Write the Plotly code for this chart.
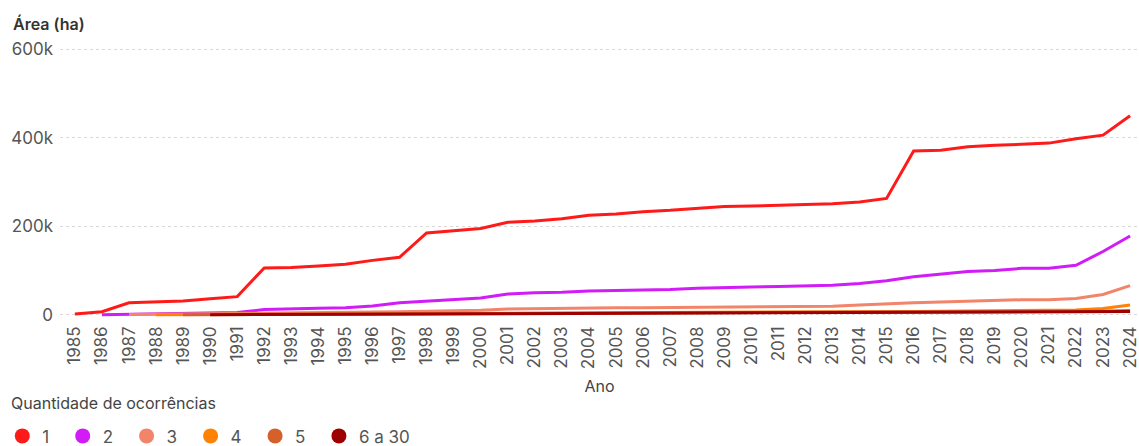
import plotly.graph_objects as go

anos = [str(a) for a in range(1985, 2025)]

# Área acumulada (ha) por quantidade de ocorrências
area_1 = [2000, 7000, 27000, 29000, 31000, 36000, 41000, 106000, 107000, 110000,
          114000, 123000, 130000, 185000, 190000, 195000, 209000, 212000, 217000, 225000,
          228000, 233000, 236000, 241000, 245000, 246000, 247000, 249000, 251000, 255000,
          263000, 370000, 372000, 380000, 383000, 386000, 388000, 398000, 406000, 450000]
area_2 = [None, 200, 1000, 1500, 2500, 3500, 5000, 12000, 14000, 15000,
          16000, 20000, 27000, 31000, 34000, 38000, 47000, 50000, 51000, 54000,
          55000, 56000, 57000, 60000, 62000, 63000, 64000, 66000, 67000, 71000,
          77000, 86000, 92000, 98000, 100000, 105000, 105000, 112000, 143000, 178000]
area_3 = [None, None, 500, 1000, 1500, 2000, 2500, 3500, 4000, 4500,
          5000, 6000, 7000, 8000, 9000, 10000, 13000, 14000, 14500, 15500,
          16000, 16000, 16500, 17000, 17500, 18000, 18500, 19000, 19500, 22000,
          25000, 27000, 29000, 31000, 32000, 34000, 34000, 37000, 46000, 66000]
area_4 = [None, None, None, 200, 400, 600, 800, 1000, 1200, 1400,
          1600, 1800, 2000, 2200, 2400, 2600, 3000, 3200, 3400, 3700,
          3900, 4100, 4300, 4600, 4800, 5000, 5200, 5500, 5800, 6200,
          6800, 7500, 8000, 8600, 9000, 9500, 10000, 11000, 14000, 22000]
area_5 = [None, None, None, None, 200, 400, 600, 800, 1000, 1100,
          1200, 1400, 1600, 1800, 2000, 2200, 2500, 2700, 2900, 3100,
          3300, 3500, 3700, 3900, 4100, 4300, 4500, 4700, 4900, 5100,
          5400, 5700, 6000, 6300, 6600, 6900, 7200, 7500, 8000, 9500]
area_6 = [None, None, None, None, None, 200, 400, 600, 800, 900,
          1000, 1100, 1300, 1500, 1700, 1900, 2100, 2300, 2500, 2700,
          2900, 3100, 3300, 3500, 3700, 3900, 4100, 4300, 4500, 4700,
          4900, 5100, 5300, 5500, 5700, 5900, 6100, 6300, 6600, 7200]

series = [
    ("1", area_1, "#ff1a1a"),
    ("2", area_2, "#d21cf7"),
    ("3", area_3, "#f2846a"),
    ("4", area_4, "#ff8205"),
    ("5", area_5, "#d5602a"),
    ("6 a 30", area_6, "#9e0000"),
]

fig = go.Figure()
for nome, valores, cor in series:
    fig.add_trace(go.Scatter(
        x=anos, y=valores, mode="lines", name=nome,
        line=dict(color=cor, width=3), showlegend=False,
        hovertemplate="%{x}: %{y:,.0f} ha<extra>" + nome + "</extra>",
    ))

# entradas da legenda com marcadores circulares (espaço extra entre itens)
for i, (nome, valores, cor) in enumerate(series):
    rotulo = nome if i == len(series) - 1 else nome + "\u2002"
    fig.add_trace(go.Scatter(
        x=[None], y=[None], mode="markers", name=rotulo,
        marker=dict(color=cor, size=15, symbol="circle"),
        showlegend=True,
    ))

fig.update_layout(
    width=1139, height=446,
    margin=dict(l=60, r=0, t=48, b=129),
    plot_bgcolor="white", paper_bgcolor="white",
    font=dict(family="Inter, Roboto, sans-serif", size=16, color="#555"),
    xaxis=dict(
        type="category", range=[-0.55, 39.33],
        showgrid=False, zeroline=False, showline=False,
        tickangle=-90, tickfont=dict(size=17, color="#555"),
        ticks="", ticklabelstandoff=5,
        title=dict(text="Ano", font=dict(size=16, color="#444"), standoff=12),
    ),
    yaxis=dict(
        range=[-5000, 603000], tickvals=[0, 200000, 400000, 600000],
        ticktext=["0", "200k", "400k", "600k"],
        showgrid=True, gridcolor="#d9d9d9", griddash="dot", gridwidth=1,
        zeroline=False, showline=False, ticks="",
        tickfont=dict(size=17, color="#555"), ticklabelstandoff=6,
    ),
    legend=dict(
        orientation="h", xref="container", yref="container",
        x=0.002, y=0.062, xanchor="left", yanchor="top",
        font=dict(size=17, color="#555"),
        itemwidth=30, tracegroupgap=0,
    ),
    annotations=[
        dict(
            text="Área (ha)", xref="paper", yref="paper",
            x=-0.045, y=1.0, xanchor="left", yanchor="bottom",
            yshift=12, showarrow=False,
            font=dict(size=16, color="#333", weight=600),
        ),
        dict(
            text="Quantidade de ocorrências", xref="paper", yref="paper",
            x=-0.0472, y=-0.32, xanchor="left", yanchor="middle",
            showarrow=False, font=dict(size=16, color="#444"),
        ),
    ],
)

fig.write_html("out.html")
